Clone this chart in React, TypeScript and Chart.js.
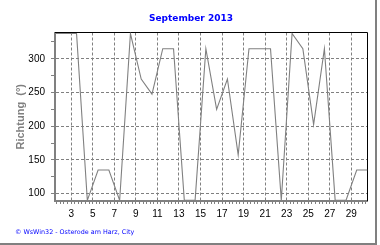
import React, { useEffect, useRef } from "react";
import { Chart, registerables } from "chart.js";

Chart.register(...registerables);

// ---- data ----
const days = [
  1, 2, 3, 4, 5, 6, 7, 8, 9, 10, 11, 12, 13, 14, 15,
  16, 17, 18, 19, 20, 21, 22, 23, 24, 25, 26, 27, 28, 29, 30,
];
const direction = [
  337.5, 337.5, 337.5, 90, 135, 135, 90, 337.5, 270, 247.5, 315, 315, 90, 90, 315,
  225, 270, 157.5, 315, 315, 315, 90, 337.5, 315, 202.5, 315, 90, 90, 135, 135,
];
const xTickLabels = [3, 5, 7, 9, 11, 13, 15, 17, 19, 21, 23, 25, 27, 29];
const yTickLabels = [100, 150, 200, 250, 300];
const yMinorTicks = [100, 125, 150, 175, 200, 225, 250, 275, 300, 325];
const xMin = 1.5;
const xMax = 30.5;
const yMin = 89;
const yMax = 339;
const titleText = "September 2013";
const yTitleText = "Richtung  (°)";
const footerText = "© WsWin32 - Osterode am Harz, City";

const GRAY = "#808080";

const isMajorX = (v: number) => {
  const r = Math.round(v);
  return Math.abs(v - r) < 1e-6 && xTickLabels.includes(r);
};
const isMajorY = (v: number) => yTickLabels.includes(Math.round(v));

const decorPlugin = {
  id: "decor",
  beforeDatasetsDraw(chart: any) {
    const { ctx, chartArea } = chart;
    const { left, top, right, bottom } = chartArea;
    ctx.save();
    ctx.strokeStyle = "#000";
    ctx.lineWidth = 1;
    ctx.beginPath();
    ctx.moveTo(left, top);
    ctx.lineTo(right, top);
    ctx.lineTo(right, bottom);
    ctx.stroke();
    ctx.restore();
  },
  afterDraw(chart: any) {
    const { ctx, chartArea } = chart;
    const { top, bottom } = chartArea;
    ctx.save();
    // title
    ctx.fillStyle = "#0000ff";
    ctx.font = "bold 9px 'DejaVu Sans'";
    ctx.textAlign = "center";
    ctx.textBaseline = "alphabetic";
    ctx.fillText(titleText, 191, 21);
    // y title
    ctx.save();
    ctx.translate(23.5, (top + bottom) / 2);
    ctx.rotate(-Math.PI / 2);
    ctx.fillStyle = GRAY;
    ctx.font = "bold 11px 'Liberation Sans', Arial, sans-serif";
    ctx.textAlign = "center";
    ctx.fillText(yTitleText, 0, 0);
    ctx.restore();
    // footer
    ctx.fillStyle = "#0000ff";
    ctx.font = "6.4px 'DejaVu Sans'";
    ctx.textAlign = "left";
    ctx.fillText(footerText, 15, 233.5);
    // outer frame (right / bottom)
    ctx.fillStyle = GRAY;
    ctx.fillRect(375, 0, 2, 245);
    ctx.fillRect(0, 243, 377, 2);
    ctx.restore();
  },
};

export default function App() {
  const ref = useRef<HTMLCanvasElement | null>(null);

  useEffect(() => {
    if (!ref.current) return;
    const points = days.map((d, i) => ({ x: d + 0.5, y: direction[i] }));
    const xTicks: number[] = [];
    for (let k = Math.ceil(xMin * 3); k <= Math.floor(xMax * 3); k++) xTicks.push(k / 3);

    const chart = new Chart(ref.current, {
      type: "line",
      data: {
        datasets: [
          {
            data: points,
            borderColor: GRAY,
            borderWidth: 1.1,
            pointRadius: 0,
            fill: false,
            tension: 0,
          },
        ],
      },
      options: {
        animation: false,
        responsive: false,
        devicePixelRatio: 1,
        layout: { padding: { left: 0, top: 32.5, right: 12.5, bottom: 0 } },
        plugins: {
          legend: { display: false },
          tooltip: { enabled: false },
          title: { display: false },
        },
        scales: {
          x: {
            type: "linear",
            min: xMin,
            max: xMax,
            afterFit: (scale: any) => {
              scale.height = 44;
            },
            afterBuildTicks: (scale: any) => {
              scale.ticks = xTicks.map((v) => ({ value: v }));
            },
            ticks: {
              autoSkip: false,
              maxRotation: 0,
              minRotation: 0,
              padding: 4,
              color: "#000",
              font: { family: "'Liberation Sans', Arial, sans-serif", size: 10 },
              callback: (value: any) => {
                const v = Number(value);
                return isMajorX(v) ? String(Math.round(v)) : "";
              },
            },
            grid: {
              color: (ctx: any) => (ctx.tick && isMajorX(ctx.tick.value) ? GRAY : "rgba(0,0,0,0)"),
              tickColor: GRAY,
              tickLength: 3,
              lineWidth: 1,
              drawTicks: true,
            },
            border: { display: true, color: GRAY, width: 2, dash: [3, 2] },
          },
          y: {
            type: "linear",
            min: yMin,
            max: yMax,
            afterFit: (scale: any) => {
              scale.width = 55;
            },
            afterBuildTicks: (scale: any) => {
              scale.ticks = yMinorTicks.map((v) => ({ value: v }));
            },
            ticks: {
              padding: 6,
              color: "#000",
              font: { family: "'Liberation Sans', Arial, sans-serif", size: 10 },
              callback: (value: any) => {
                const v = Number(value);
                return isMajorY(v) ? String(Math.round(v)) : "";
              },
            },
            grid: {
              color: (ctx: any) => (ctx.tick && isMajorY(ctx.tick.value) ? GRAY : "rgba(0,0,0,0)"),
              tickColor: GRAY,
              tickLength: 4,
              lineWidth: 1,
              drawTicks: true,
            },
            border: { display: true, color: GRAY, width: 2, dash: [3, 2] },
          },
        },
      },
      plugins: [decorPlugin],
    } as any);

    return () => {
      chart.destroy();
    };
  }, []);

  return (
    <div style={{ position: "absolute", left: 0, top: 0, width: 380, height: 245, background: "#fff" }}>
      <canvas ref={ref} width={380} height={245} style={{ display: "block" }} />
    </div>
  );
}
